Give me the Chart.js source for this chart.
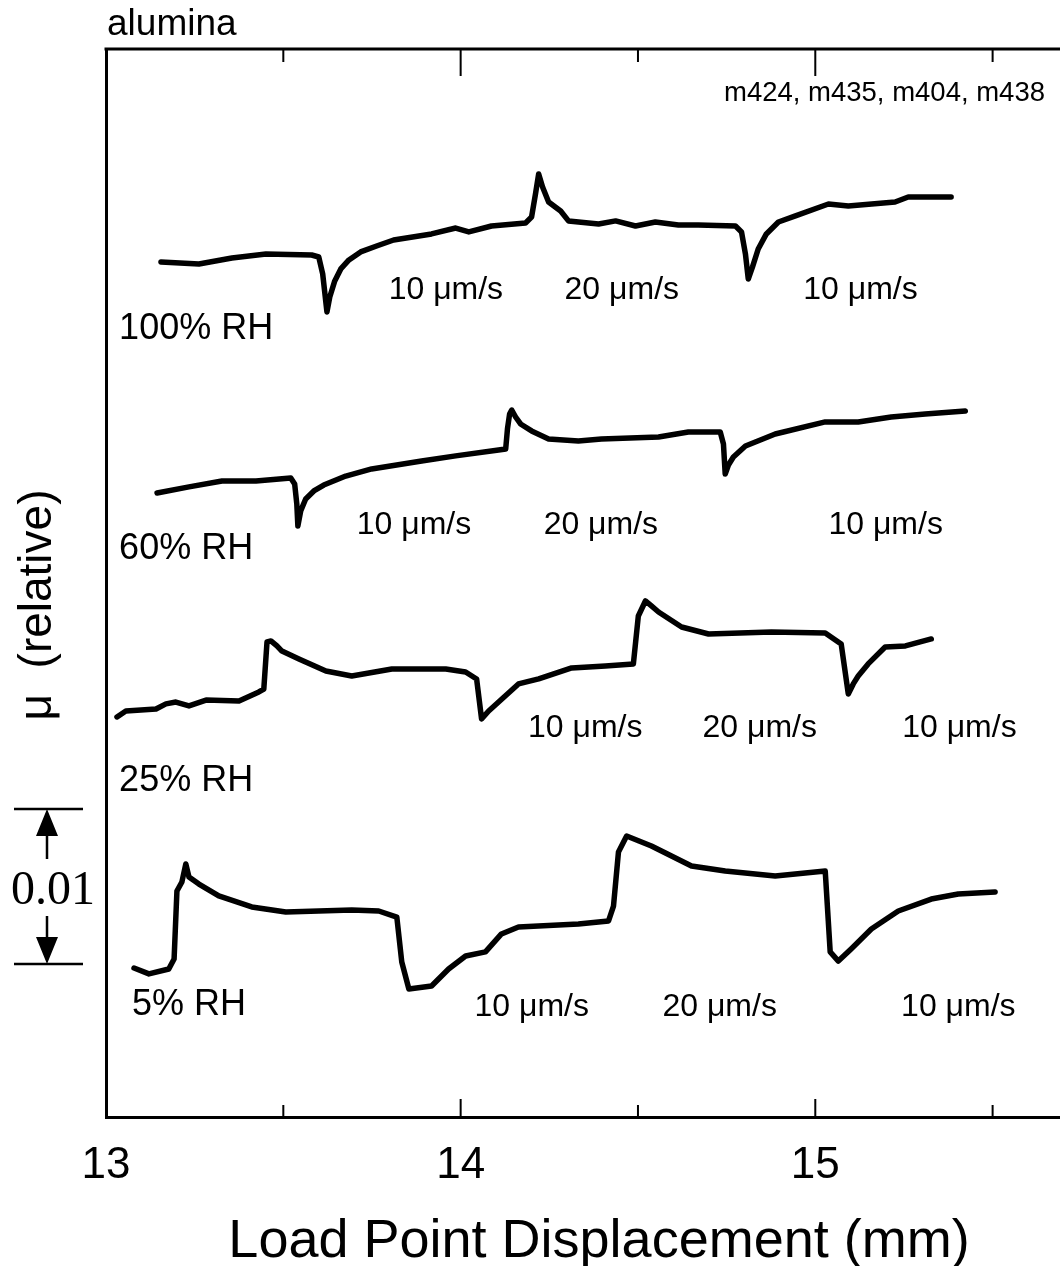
<!DOCTYPE html>
<html>
<head>
<meta charset="utf-8">
<script src="https://cdn.jsdelivr.net/npm/chart.js@4.4.1/dist/chart.umd.min.js"></script>
<style>
  html, body { margin: 0; padding: 0; background: #fff; overflow: hidden; }
  canvas { display: block; }
</style>
</head>
<body>
<canvas id="frictionChart" width="1060" height="1266"></canvas>
<script>
// Load point displacement (mm) and relative friction (units of 0.001)
const x100 = [13.155, 13.262, 13.355, 13.451, 13.580, 13.600, 13.611, 13.623, 13.631, 13.645, 13.662, 13.685, 13.718, 13.763, 13.811, 13.918, 13.986, 14.023, 14.087, 14.183, 14.200, 14.211, 14.220, 14.231, 14.248, 14.282, 14.304, 14.389, 14.437, 14.493, 14.549, 14.614, 14.670, 14.775, 14.792, 14.803, 14.811, 14.823, 14.839, 14.862, 14.896, 14.944, 15.037, 15.093, 15.225, 15.262, 15.383];
const mu100 = [55.16, 55.03, 55.42, 55.68, 55.61, 55.48, 54.39, 51.94, 52.90, 53.94, 54.71, 55.29, 55.81, 56.19, 56.58, 56.97, 57.35, 57.10, 57.48, 57.68, 58.06, 59.55, 60.84, 60.00, 59.03, 58.45, 57.81, 57.61, 57.81, 57.48, 57.74, 57.55, 57.55, 57.48, 57.10, 55.68, 54.06, 54.84, 56.00, 56.97, 57.74, 58.13, 58.90, 58.77, 59.03, 59.35, 59.35];

const x60 = [13.144, 13.234, 13.327, 13.423, 13.521, 13.532, 13.538, 13.541, 13.549, 13.563, 13.586, 13.614, 13.676, 13.749, 13.890, 13.986, 14.107, 14.127, 14.132, 14.138, 14.144, 14.155, 14.169, 14.200, 14.248, 14.332, 14.397, 14.558, 14.642, 14.732, 14.741, 14.746, 14.755, 14.769, 14.803, 14.887, 15.028, 15.121, 15.214, 15.310, 15.423];
const mu60 = [40.26, 40.65, 41.03, 41.03, 41.23, 40.84, 39.55, 38.13, 39.10, 39.87, 40.39, 40.77, 41.35, 41.81, 42.32, 42.65, 43.03, 43.10, 44.39, 45.35, 45.61, 45.16, 44.71, 44.26, 43.74, 43.61, 43.74, 43.87, 44.19, 44.19, 43.42, 41.48, 42.06, 42.58, 43.29, 44.06, 44.84, 44.84, 45.16, 45.35, 45.55];

const x25 = [13.031, 13.056, 13.141, 13.169, 13.197, 13.234, 13.282, 13.375, 13.431, 13.445, 13.454, 13.465, 13.482, 13.496, 13.544, 13.620, 13.693, 13.806, 13.958, 14.014, 14.045, 14.059, 14.079, 14.107, 14.163, 14.220, 14.313, 14.408, 14.487, 14.501, 14.521, 14.538, 14.558, 14.623, 14.699, 14.876, 15.028, 15.073, 15.093, 15.107, 15.121, 15.149, 15.197, 15.254, 15.327];
const mu25 = [25.81, 26.19, 26.32, 26.65, 26.77, 26.52, 26.90, 26.84, 27.42, 27.61, 30.65, 30.71, 30.39, 30.06, 29.55, 28.77, 28.45, 28.90, 28.90, 28.71, 28.26, 25.68, 26.19, 26.77, 27.94, 28.26, 28.97, 29.10, 29.23, 32.32, 33.29, 32.97, 32.58, 31.61, 31.16, 31.29, 31.23, 30.52, 27.29, 27.94, 28.45, 29.23, 30.32, 30.39, 30.84];

const x5 = [13.079, 13.121, 13.177, 13.192, 13.200, 13.214, 13.225, 13.234, 13.262, 13.318, 13.411, 13.507, 13.693, 13.769, 13.820, 13.834, 13.854, 13.918, 13.966, 14.014, 14.070, 14.115, 14.163, 14.332, 14.417, 14.431, 14.445, 14.468, 14.538, 14.651, 14.746, 14.887, 15.028, 15.042, 15.065, 15.101, 15.158, 15.234, 15.327, 15.403, 15.507];
const mu5 = [9.61, 9.23, 9.55, 10.19, 14.58, 15.16, 16.32, 15.48, 15.03, 14.26, 13.55, 13.23, 13.35, 13.29, 12.90, 10.00, 8.26, 8.45, 9.55, 10.39, 10.65, 11.81, 12.26, 12.45, 12.65, 13.61, 17.10, 18.13, 17.48, 16.19, 15.87, 15.55, 15.87, 10.65, 10.06, 10.84, 12.13, 13.29, 14.06, 14.39, 14.52];

// Axis ticks
const xTickValues = [13, 14, 15];
const xTickLabels = ['13', '14', '15'];
const majorTicks = [14, 15];
const minorTicks = [13.5, 14.5, 15.5];

// Scale bar: 0.01 in mu = 10 units
const scaleBarBase = 9.87;
const scaleBarSize = 10;

// Annotations: [text, x (mm), mu]
const rhLabels = [
    ['100% RH', 13.037, 50.2],
    ['60% RH', 13.037, 36.0],
    ['25% RH', 13.037, 21.0],
    ['5% RH', 13.073, 6.6]
];
const rateLabels = [
    ['10 \u03bcm/s', 13.797, 52.8], ['20 \u03bcm/s', 14.293, 52.8], ['10 \u03bcm/s', 14.966, 52.8],
    ['10 \u03bcm/s', 13.707, 37.6], ['20 \u03bcm/s', 14.234, 37.6], ['10 \u03bcm/s', 15.037, 37.6],
    ['10 \u03bcm/s', 14.190, 24.5], ['20 \u03bcm/s', 14.682, 24.5], ['10 \u03bcm/s', 15.245, 24.5],
    ['10 \u03bcm/s', 14.039, 6.5], ['20 \u03bcm/s', 14.569, 6.5], ['10 \u03bcm/s', 15.242, 6.5]
];

const FONT = '"Liberation Sans", Arial, Helvetica, sans-serif';

function toPoints(xs, ys) {
    return xs.map((x, i) => ({ x: x, y: ys[i] }));
}

function traceDataset(label, xs, ys) {
    return {
        label: label,
        data: toPoints(xs, ys),
        showLine: true,
        borderColor: '#000',
        borderWidth: 5.5,
        borderJoinStyle: 'round',
        borderCapStyle: 'round',
        pointRadius: 0,
        tension: 0,
        fill: false
    };
}

// Frame, inner ticks and text labels
const decorations = {
    id: 'decorations',
    afterDraw(chart) {
        const { ctx, chartArea } = chart;
        const xs = chart.scales.x;
        const ys = chart.scales.y;
        ctx.save();
        ctx.strokeStyle = '#000';
        ctx.fillStyle = '#000';
        ctx.lineCap = 'butt';

        // top frame
        ctx.lineWidth = 3;
        ctx.beginPath();
        ctx.moveTo(chartArea.left - 1.5, chartArea.top);
        ctx.lineTo(chartArea.right, chartArea.top);
        ctx.stroke();

        // inner ticks on bottom and top
        ctx.lineWidth = 2;
        const drawTicks = (values, bottomLen, topLen) => {
            values.forEach(v => {
                const px = xs.getPixelForValue(v);
                ctx.beginPath();
                ctx.moveTo(px, chartArea.bottom);
                ctx.lineTo(px, chartArea.bottom - bottomLen);
                ctx.moveTo(px, chartArea.top);
                ctx.lineTo(px, chartArea.top + topLen);
                ctx.stroke();
            });
        };
        drawTicks(majorTicks, 18, 27);
        drawTicks(minorTicks, 12, 13);

        // text
        ctx.textAlign = 'left';
        ctx.textBaseline = 'alphabetic';
        ctx.font = '37px ' + FONT;
        ctx.fillText('alumina', 107, 35);
        ctx.font = '27.5px ' + FONT;
        ctx.fillText('m424, m435, m404, m438', 724, 101);

        ctx.font = '36px ' + FONT;
        rhLabels.forEach(([t, x, y]) => ctx.fillText(t, xs.getPixelForValue(x), ys.getPixelForValue(y)));
        ctx.font = '32px ' + FONT;
        rateLabels.forEach(([t, x, y]) => ctx.fillText(t, xs.getPixelForValue(x), ys.getPixelForValue(y)));

        // axis titles
        ctx.font = '54px ' + FONT;
        ctx.textAlign = 'center';
        ctx.fillText('Load Point Displacement (mm)', 599, 1257);

        ctx.save();
        ctx.translate(38, 605);
        ctx.rotate(-Math.PI / 2);
        ctx.font = '46px ' + FONT;
        ctx.textBaseline = 'middle';
        ctx.fillText('\u03bc  (relative)', 0, 0);
        ctx.restore();

        // 0.01 scale bar
        const yLow = ys.getPixelForValue(scaleBarBase);
        const yHigh = ys.getPixelForValue(scaleBarBase + scaleBarSize);
        const cx = 47;
        ctx.lineWidth = 2.5;
        ctx.beginPath();
        ctx.moveTo(14, yHigh); ctx.lineTo(83, yHigh);
        ctx.moveTo(14, yLow); ctx.lineTo(83, yLow);
        ctx.moveTo(cx, yHigh + 25); ctx.lineTo(cx, yHigh + 50);
        ctx.moveTo(cx, yLow - 25); ctx.lineTo(cx, yLow - 48);
        ctx.stroke();
        ctx.beginPath();
        ctx.moveTo(cx, yHigh); ctx.lineTo(cx - 11, yHigh + 27); ctx.lineTo(cx + 11, yHigh + 27); ctx.closePath();
        ctx.moveTo(cx, yLow); ctx.lineTo(cx - 11, yLow - 27); ctx.lineTo(cx + 11, yLow - 27); ctx.closePath();
        ctx.fill();

        ctx.font = '48px "Liberation Serif", "Times New Roman", serif';
        ctx.textAlign = 'left';
        ctx.textBaseline = 'alphabetic';
        ctx.fillText('0.01', 11, (yLow + yHigh) / 2 + 17);

        ctx.restore();
    }
};

new Chart(document.getElementById('frictionChart'), {
    type: 'scatter',
    data: {
        datasets: [
            traceDataset('100% RH', x100, mu100),
            traceDataset('60% RH', x60, mu60),
            traceDataset('25% RH', x25, mu25),
            traceDataset('5% RH', x5, mu5)
        ]
    },
    options: {
        responsive: false,
        animation: false,
        layout: { padding: { top: 49, right: 0, bottom: 0, left: 0 } },
        plugins: {
            legend: { display: false },
            tooltip: { enabled: false }
        },
        scales: {
            x: {
                type: 'linear',
                min: 13,
                max: 15.69,
                afterFit(scale) {
                    scale.height = 149;
                    scale.paddingLeft = 0;
                    scale.paddingRight = 0;
                },
                grid: { display: false },
                border: { display: true, color: '#000', width: 3 },
                ticks: {
                    stepSize: 0.5,
                    autoSkip: false,
                    maxRotation: 0,
                    padding: 14,
                    color: '#000',
                    font: { family: FONT, size: 44 },
                    callback(value) {
                        const i = xTickValues.indexOf(value);
                        return i >= 0 ? xTickLabels[i] : '';
                    }
                }
            },
            y: {
                type: 'linear',
                min: 0,
                max: 68.9,
                afterFit(scale) { scale.width = 106; },
                grid: { display: false },
                border: { display: true, color: '#000', width: 3 },
                ticks: { display: false }
            }
        }
    },
    plugins: [decorations]
});
</script>
</body>
</html>
